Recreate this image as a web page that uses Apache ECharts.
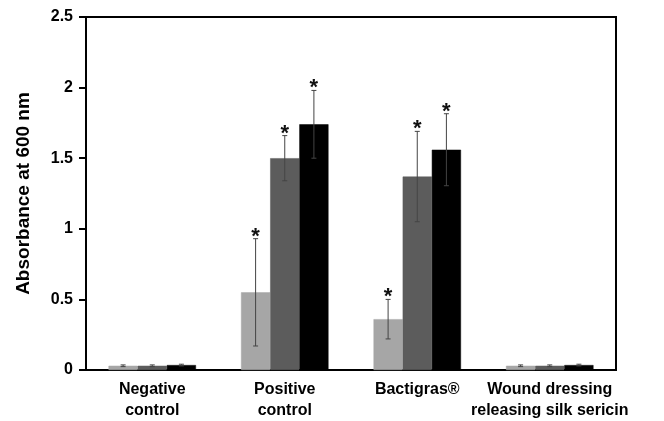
<!DOCTYPE html>
<html><head><meta charset="utf-8">
<script src="https://cdn.jsdelivr.net/npm/echarts@6/dist/echarts.min.js"></script>
<style>html,body{margin:0;padding:0;background:#fff}#c{width:664px;height:421px}</style>
</head><body><div id="c"></div>
<script>
var categories = ['Negative\ncontrol', 'Positive\ncontrol', 'Bactigras®', 'Wound dressing\nreleasing silk sericin'];
var yTicks = [0, 0.5, 1, 1.5, 2, 2.5];
var seriesLight = [0.03, 0.55, 0.36, 0.03];
var seriesDark = [0.03, 1.50, 1.37, 0.03];
var seriesBlack = [0.035, 1.74, 1.56, 0.035];
var errLight = [0.006, 0.38, 0.14, 0.006];
var errDark = [0.006, 0.16, 0.32, 0.006];
var errBlack = [0.006, 0.24, 0.255, 0.006];
var sigLight = [false, true, true, false];
var sigDark = [false, true, true, false];
var sigBlack = [false, true, true, false];

var colors = ['#a6a6a6', '#5c5c5c', '#000000'];
var values = [seriesLight, seriesDark, seriesBlack];
var errs = [errLight, errDark, errBlack];
var sigs = [sigLight, sigDark, sigBlack];
var groupFrac = 0.66;

function barSeries(i) {
  return {
    type: 'bar', data: values[i], barGap: '0%', barCategoryGap: '34%',
    itemStyle: { color: colors[i], borderColor: i === 2 ? '#000' : colors[i], borderWidth: 0.5 },
    z: 2
  };
}
function errSeries(i) {
  var data = values[i].map(function (v, k) { return [k, v, errs[i][k], sigs[i][k] ? 1 : 0]; });
  return {
    type: 'custom', z: 5,
    data: data,
    renderItem: function (params, api) {
      var k = api.value(0), v = api.value(1), e = api.value(2), s = api.value(3);
      var band = api.size([1, 0])[0];
      var bw = band * groupFrac / 3;
      var c = api.coord([k, v]);
      var x = c[0] + (i - 1) * bw;
      var top = api.coord([k, v + e])[1];
      var bot = api.coord([k, v - e])[1];
      var cap = 2.5;
      var ls = { stroke: '#444', lineWidth: 1 };
      var children = [
        { type: 'line', shape: { x1: x, y1: top, x2: x, y2: bot }, style: ls },
        { type: 'line', shape: { x1: x - cap, y1: top, x2: x + cap, y2: top }, style: ls },
        { type: 'line', shape: { x1: x - cap, y1: bot, x2: x + cap, y2: bot }, style: ls }
      ];
      if (s) {
        children.push({ type: 'text', style: { x: x, y: top + 9, text: '*', fill: '#111', font: 'bold 22px "Liberation Sans", Arial', align: 'center', verticalAlign: 'bottom' } });
      }
      return { type: 'group', children: children };
    }
  };
}

var chart = echarts.init(document.getElementById('c'), null, { renderer: 'canvas' });
chart.setOption({
  animation: false,
  grid: { left: 86, right: 48, top: 17, bottom: 50, show: true, borderColor: '#000', borderWidth: 2, backgroundColor: 'transparent' },
  xAxis: {
    type: 'category', data: categories,
    axisLine: { lineStyle: { color: '#000', width: 2 } },
    axisTick: { show: false },
    axisLabel: { color: '#000', fontSize: 16, fontWeight: 'bold', fontFamily: '"Liberation Sans", Arial', lineHeight: 21, margin: 9, interval: 0 }
  },
  yAxis: {
    type: 'value', min: yTicks[0], max: yTicks[yTicks.length - 1], interval: yTicks[1] - yTicks[0],
    name: 'Absorbance at 600 nm', nameLocation: 'middle', nameGap: 53,
    nameTextStyle: { color: '#000', fontSize: 19, fontWeight: 'bold', fontFamily: '"Liberation Sans", Arial' },
    axisLine: { show: true, lineStyle: { color: '#000', width: 2 } },
    axisTick: { show: true, length: 7, lineStyle: { color: '#000', width: 2 } },
    splitLine: { show: false },
    axisLabel: { color: '#000', fontSize: 16, fontWeight: 'bold', fontFamily: '"Liberation Sans", Arial', margin: 13 }
  },
  series: [barSeries(0), barSeries(1), barSeries(2), errSeries(0), errSeries(1), errSeries(2)]
});
</script></body></html>
